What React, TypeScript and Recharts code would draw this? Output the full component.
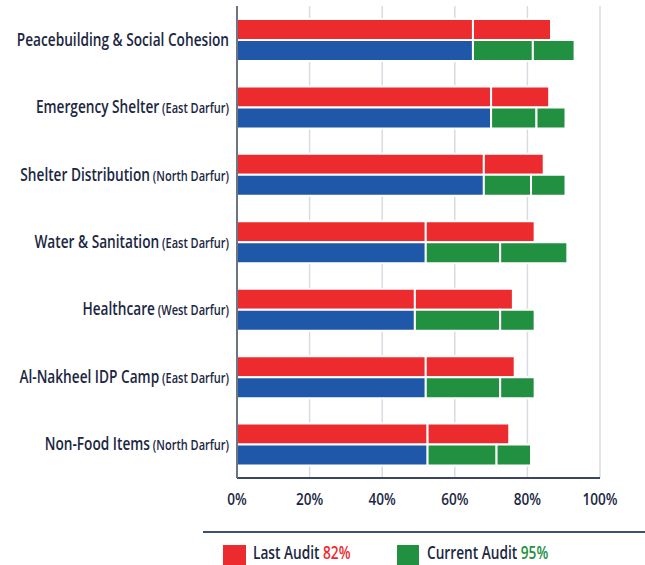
import React from "react";
import { BarChart, Bar, XAxis, YAxis, CartesianGrid, Legend } from "recharts";

// programme names and the region shown in brackets
const programmes = [
  "Peacebuilding & Social Cohesion",
  "Emergency Shelter",
  "Shelter Distribution",
  "Water & Sanitation",
  "Healthcare",
  "Al-Nakheel IDP Camp",
  "Non-Food Items",
];
const regions = ["", "(East Darfur)", "(North Darfur)", "(East Darfur)", "(West Darfur)", "(East Darfur)", "(North Darfur)"];

// % compliance
const baseline = [65, 70, 68, 52, 49, 52, 52.5];
const lastAudit = [86.5, 86, 84.5, 82, 76, 76.5, 75];
const currentMid = [81.5, 82.5, 81, 72.5, 72.5, 72.5, 71.5];
const currentAudit = [93, 90.5, 90.5, 91, 82, 82, 81];

const xTicks = [0, 20, 40, 60, 80, 100];

const RED = "#ec2b2e";
const BLUE = "#1f58a8";
const GREEN = "#219040";
const INK = "#1b2742";
const FONT = "'Open Sans', sans-serif";
const SQUEEZE = 0.76; // the reference uses a condensed face

const data = programmes.map((name, i) => ({
  name,
  lastA: baseline[i],
  lastB: lastAudit[i] - baseline[i],
  curA: baseline[i],
  curB: currentMid[i] - baseline[i],
  curC: currentAudit[i] - currentMid[i],
}));

function CategoryTick({ x, y, payload, index }: any) {
  const region = regions[payload.index ?? index] || "";
  return (
    <g transform={`translate(${x},${y}) scale(${SQUEEZE},1)`}>
      <text x={0} y={0} dy={6} textAnchor="end" fontFamily={FONT} fontWeight={600} fill={INK}>
        <tspan fontSize={18}>{payload.value}</tspan>
        {region && <tspan fontSize={14.5}>{" " + region}</tspan>}
      </text>
    </g>
  );
}

function PercentTick({ x, y, payload }: any) {
  return (
    <g transform={`translate(${x},${y}) scale(0.8,1)`}>
      <text x={0} y={0} dy={19} textAnchor="middle" fontFamily={FONT} fontWeight={600} fontSize={17} fill={INK}>
        {`${payload.value}%`}
      </text>
    </g>
  );
}

function AuditLegend() {
  const label: React.CSSProperties = {
    position: "absolute",
    top: 9,
    fontSize: 18,
    fontWeight: 600,
    color: INK,
    whiteSpace: "nowrap",
    transform: "scaleX(0.76)",
    transformOrigin: "left center",
  };
  return (
    <div style={{ position: "relative", width: 645, height: 34, fontFamily: FONT }}>
      <div style={{ position: "absolute", left: 203, right: 0, top: 0, height: 2, background: "#3d4f73" }} />
      <div style={{ position: "absolute", left: 223, top: 14, width: 23, height: 22, background: RED }} />
      <div style={{ ...label, left: 253 }}>
        Last Audit <span style={{ color: RED }}>82%</span>
      </div>
      <div style={{ position: "absolute", left: 397, top: 14, width: 22, height: 22, background: GREEN }} />
      <div style={{ ...label, left: 427 }}>
        Current Audit <span style={{ color: GREEN }}>95%</span>
      </div>
    </div>
  );
}

export default function App() {
  return (
    <div style={{ position: "absolute", left: 0, top: 0, width: 645, height: 565, background: "#fff", overflow: "hidden" }}>
      <BarChart
        width={645}
        height={565}
        data={data}
        layout="vertical"
        margin={{ top: 6, right: 45, left: 0, bottom: 20 }}
        barSize={21}
        barGap={0}
      >
        <CartesianGrid horizontal={false} stroke="#d8dce2" strokeWidth={1.5} />
        <XAxis
          type="number"
          domain={[0, 100]}
          ticks={xTicks}
          axisLine={{ stroke: "#3a4560", strokeWidth: 2 }}
          tickLine={false}
          tick={<PercentTick />}
          height={33}
        />
        <YAxis
          type="category"
          dataKey="name"
          width={237}
          axisLine={{ stroke: "#6e7582", strokeWidth: 2 }}
          tickLine={false}
          tick={<CategoryTick />}
        />
        <Legend verticalAlign="bottom" content={<AuditLegend />} wrapperStyle={{ left: 0, bottom: 0, width: 645, height: 34 }} />
        <Bar dataKey="lastA" stackId="last" fill={RED} stroke="#fff" strokeWidth={2} isAnimationActive={false} />
        <Bar dataKey="lastB" stackId="last" fill={RED} stroke="#fff" strokeWidth={2} isAnimationActive={false} />
        <Bar dataKey="curA" stackId="cur" fill={BLUE} stroke="#fff" strokeWidth={2} isAnimationActive={false} />
        <Bar dataKey="curB" stackId="cur" fill={GREEN} stroke="#fff" strokeWidth={2} isAnimationActive={false} />
        <Bar dataKey="curC" stackId="cur" fill={GREEN} stroke="#fff" strokeWidth={2} isAnimationActive={false} />
      </BarChart>
    </div>
  );
}
